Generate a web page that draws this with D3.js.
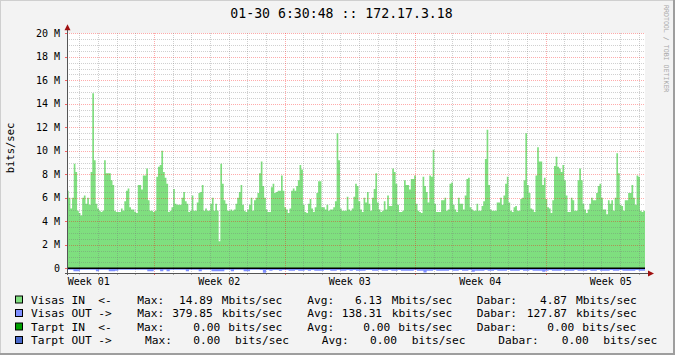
<!DOCTYPE html>
<html><head><meta charset="utf-8">
<script src="https://cdn.jsdelivr.net/npm/d3@7"></script>
<style>
html,body{margin:0;padding:0;background:#f3f3f3;}
svg{display:block;}
text{font-family:"DejaVu Sans Mono",monospace;fill:#000;white-space:pre;}
</style></head><body>
<svg id="chart" width="675" height="355"></svg>
<script>
// ---------- data ----------
const title = "01-30 6:30:48 :: 172.17.3.18";
const yAxisTitle = "bits/sec";
const watermark = "RRDTOOL / TOBI OETIKER";
const weekLabels = ["Week 01", "Week 02", "Week 03", "Week 04", "Week 05"];
const yTicks = [0, 2, 4, 6, 8, 10, 12, 14, 16, 18, 20];   // M bits/sec
const yTickLabels = ["0", "2 M", "4 M", "6 M", "8 M", "10 M", "12 M", "14 M", "16 M", "18 M", "20 M"];
const spanHours = 744;          // 31 days shown
const firstMidnightHour = 16;   // first day boundary after graph start
const firstWeekHour = 112;      // first week boundary after graph start

// Visas IN (Mbits/sec), evenly spaced samples across the period
const visasIn = [
6.6,6.0,5.1,6.0,8.9,8.2,4.9,4.7,4.5,6.0,6.2,5.5,6.0,5.4,8.2,14.9,9.2,5.5,5.1,4.9,4.8,4.9,9.2,8.1,8.1,8.1,7.5,7.1,4.9,4.8,
4.8,4.8,5.1,4.9,5.7,6.6,6.8,5.2,5.0,5.0,4.8,4.7,7.1,7.1,6.7,7.9,7.9,8.5,5.8,4.9,4.9,4.8,4.9,7.8,8.65,8.8,10.0,8.2,7.7,7.2,
4.8,4.9,5.2,6.75,5.5,5.4,5.4,5.4,6.0,6.5,5.7,5.5,4.8,4.9,6.2,4.9,4.9,5.6,6.4,6.5,7.1,4.9,5.1,4.9,4.9,5.5,6.0,4.9,5.5,4.9,
2.3,8.9,7.2,5.8,5.5,4.9,4.9,5.0,4.9,5.0,5.5,6.0,6.5,7.1,5.4,4.9,4.8,5.0,5.4,6.0,4.9,5.8,
6.0,6.4,8.1,9.1,7.0,6.0,5.0,4.8,4.8,6.9,7.2,6.4,6.5,6.6,6.6,7.9,6.6,5.2,5.0,4.7,5.1,6.6,6.8,6.6,7.0,7.5,8.8,8.4,5.4,4.8,
4.7,5.5,5.9,5.1,4.8,5.2,6.4,7.4,7.4,5.2,5.2,5.0,5.4,4.9,5.0,5.0,5.2,5.7,11.5,9.2,5.1,4.9,4.9,4.9,6.1,5.0,4.9,5.1,6.1,7.2,
7.0,5.7,5.0,4.8,6.0,5.6,6.5,5.5,4.9,6.0,6.75,8.1,5.6,5.0,4.8,4.9,5.7,5.0,6.2,5.3,5.3,8.5,8.2,7.2,5.4,4.8,4.8,4.9,7.5,7.1,
7.1,6.7,7.6,7.6,7.9,5.5,4.9,4.8,4.7,7.8,7.0,6.5,5.6,7.9,7.8,10.1,5.5,4.8,4.8,4.8,5.8,5.8,6.0,4.9,5.0,7.2,7.3,5.4,
5.0,4.8,6.0,5.5,5.5,5.0,6.2,7.6,7.7,5.2,5.0,4.9,4.9,5.5,4.9,4.9,5.3,5.7,9.3,11.8,7.1,5.0,4.9,4.9,4.9,5.6,5.6,6.0,5.4,6.2,
7.2,7.8,5.6,4.9,4.8,5.2,5.3,4.9,4.9,5.9,6.0,7.5,11.5,7.1,6.4,5.1,5.0,4.8,7.9,10.3,9.1,9.1,7.1,7.7,5.9,5.2,5.1,4.7,5.8,8.7,
9.5,8.65,8.5,8.2,8.8,7.5,6.2,4.8,4.8,6.0,5.8,4.9,4.9,7.5,8.5,7.5,5.5,5.0,4.7,5.0,5.5,6.0,5.8,5.8,6.4,7.0,7.2,6.0,5.0,5.0,
4.6,5.8,5.5,5.8,4.9,6.0,9.8,8.1,5.4,5.3,4.9,5.8,5.8,6.4,6.4,7.1,6.0,5.4,7.9,7.8,4.9,4.8,4.9
];
// Visas OUT (Mbits/sec), drawn below zero
const visasOut = [
0.12,0.12,0.26,0.26,0.12,0.12,0.12,0.12,0.12,0.26,0.12,0.12,0.12,0.26,0.26,0.2,0.12,0.12,0.12,0.12,
0.12,0.12,0.12,0.12,0.12,0.26,0.26,0.12,0.12,0.26,0.12,0.26,0.12,0.12,0.12,0.12,0.12,0.26,0.12,0.12,
0.12,0.26,0.12,0.12,0.12,0.26,0.26,0.26,0.26,0.12,0.12,0.26,0.12,0.12,0.12,0.26,0.26,0.12,0.12,0.12,
0.15,0.38,0.15,0.2,0.15,0.15,0.2,0.15,0.15,0.2,0.2,0.15,0.2,0.2,0.15,0.2,0.15,0.2,0.2,0.2,
0.15,0.15,0.2,0.2,0.15,0.2,0.2,0.15,0.2,0.15,0.2,0.2,0.2,0.15,0.15,0.2,0.2,0.15,0.2,0.2,
0.15,0.2,0.2,0.15,0.2,0.2,0.2,0.2,0.15,0.2,0.2,0.35,0.2,0.2,0.15,0.2,0.2,0.2,0.2,0.15,
0.2,0.2,0.15,0.2,0.2,0.15,0.3,0.2,0.2,0.2,0.15,0.2,0.2,0.15,0.2,0.2,0.2,0.15,0.2,0.2,
0.2,0.15,0.2,0.2,0.15,0.2,0.2,0.2,0.3,0.2,0.15,0.2,0.2,0.2,0.15,0.2,0.2,0.2,0.15,0.2,
0.2,0.2,0.15,0.2,0.2,0.15,0.2,0.2,0.2,0.15,0.2,0.2,0.15,0.2,0.2,0.2,0.2,0.15,0.2,0.2
];

// legend
const seriesNames  = ["Visas IN  <-", "Visas OUT ->", "Tarpt IN  <-", "Tarpt OUT ->"];
const seriesColors = ["#7fdf7f", "#7f8fff", "#00a000", "#4a6acc"];
const maxVals   = ["14.89", "379.85", "0.00", "0.00"];
const avgVals   = ["6.13", "138.31", "0.00", "0.00"];
const lastVals  = ["4.87", "127.87", "0.00", "0.00"];
const maxUnits  = ["Mbits/sec", "kbits/sec", "bits/sec", "bits/sec"];
const avgUnits  = ["Mbits/sec", "kbits/sec", "bits/sec", "bits/sec"];
const lastUnits = ["Mbits/sec", "kbits/sec", "bits/sec", "bits/sec"];
const maxLabel = "Max:", avgLabel = "Avg:", lastLabel = "Dabar:";

// ---------- layout ----------
const W = 675, H = 355;
const plot = {left: 67, right: 645, top: 33.3, bottom: 273};
const svg = d3.select("#chart");

// frame
svg.append("rect").attr("x", 0).attr("y", 0).attr("width", W).attr("height", H).attr("fill", "#f3f3f3");
svg.append("path").attr("d", `M0,${H} L0,0 L${W},0`).attr("fill", "none").attr("stroke", "#cfcfcf").attr("stroke-width", 2);
svg.append("path").attr("d", `M0,${H-1} L${W-1},${H-1} L${W-1},0`).attr("fill", "none").attr("stroke", "#9e9e9e").attr("stroke-width", 2);

// canvas
svg.append("rect").attr("x", plot.left).attr("y", plot.top)
  .attr("width", plot.right - plot.left).attr("height", plot.bottom - plot.top).attr("fill", "#ffffff");

const x = d3.scaleLinear().domain([0, spanHours]).range([plot.left, plot.right]);
const y = d3.scaleLinear().domain([-0.4, 20]).range([plot.bottom, plot.top]);

// data areas (step, like rrdtool)
function stepArea(arr, sign) {
  const n = arr.length, dt = spanHours / n;
  const pts = arr.map((v, i) => ({t: i * dt, v: sign * v}));
  pts.push({t: spanHours, v: sign * arr[n - 1]});
  return d3.area().curve(d3.curveStepAfter)
    .x(d => x(d.t)).y0(y(0)).y1(d => y(d.v))(pts);
}
svg.append("path").attr("d", stepArea(visasIn, 1)).attr("fill", seriesColors[0]);
svg.append("path").attr("d", stepArea(visasOut, -1)).attr("fill", seriesColors[1]);

// grid (drawn over data, translucent like rrdtool)
const gMinor = "rgba(120,120,120,0.35)", gMajor = "rgba(255,0,0,0.33)";
const grid = svg.append("g").attr("shape-rendering", "crispEdges");
for (let v = 0.5; v <= 20; v += 0.5) {
  const major = Math.abs(v / 2 - Math.round(v / 2)) < 1e-9;
  grid.append("line").attr("x1", plot.left).attr("x2", plot.right)
    .attr("y1", Math.round(y(v)) + 0.5).attr("y2", Math.round(y(v)) + 0.5)
    .attr("stroke", major ? gMajor : gMinor).attr("stroke-dasharray", "1,1");
}
for (let h = firstMidnightHour; h < spanHours; h += 24) {
  const major = (h - firstWeekHour) % 168 === 0;
  grid.append("line").attr("y1", plot.top).attr("y2", plot.bottom)
    .attr("x1", Math.round(x(h)) + 0.5).attr("x2", Math.round(x(h)) + 0.5)
    .attr("stroke", major ? gMajor : gMinor).attr("stroke-dasharray", "1,1");
  grid.append("line").attr("y1", plot.bottom).attr("y2", plot.bottom + 2)
    .attr("x1", Math.round(x(h)) + 0.5).attr("x2", Math.round(x(h)) + 0.5)
    .attr("stroke", major ? "rgba(255,0,0,0.6)" : "rgba(120,120,120,0.6)");
}
yTicks.forEach(v => {
  grid.append("line").attr("x1", plot.left - 2).attr("x2", plot.left)
    .attr("y1", Math.round(y(v)) + 0.5).attr("y2", Math.round(y(v)) + 0.5)
    .attr("stroke", "rgba(255,0,0,0.6)");
});

// zero line
svg.append("line").attr("x1", plot.left).attr("x2", plot.right)
  .attr("y1", y(0)).attr("y2", y(0)).attr("stroke", "#000").attr("stroke-width", 1.5);

// axes
const axisColor = "#555";
svg.append("line").attr("x1", plot.left + 0.5).attr("x2", plot.left + 0.5)
  .attr("y1", plot.bottom + 2).attr("y2", plot.top - 4).attr("stroke", axisColor);
svg.append("line").attr("x1", plot.left - 2).attr("x2", plot.right + 4)
  .attr("y1", plot.bottom + 0.5).attr("y2", plot.bottom + 0.5).attr("stroke", axisColor);
const arrowColor = "#a01010";
svg.append("path").attr("d", `M${plot.left - 2.5},${plot.top - 3} L${plot.left + 3.5},${plot.top - 3} L${plot.left + 0.5},${plot.top - 9} Z`).attr("fill", arrowColor);
svg.append("path").attr("d", `M${plot.right + 3},${plot.bottom - 2.5} L${plot.right + 3},${plot.bottom + 3.5} L${plot.right + 9},${plot.bottom + 0.5} Z`).attr("fill", arrowColor);

// y labels
svg.append("g").selectAll("text").data(yTicks).join("text")
  .attr("x", 60).attr("y", d => y(d) + 3.5).attr("text-anchor", "end")
  .attr("font-size", "10px").text((d, i) => yTickLabels[i]);

// week labels (centered in week)
svg.append("g").selectAll("text").data(weekLabels).join("text")
  .attr("x", (d, i) => x(firstWeekHour + (i - 1) * 168 + 84))
  .attr("y", 285).attr("text-anchor", "middle").attr("font-size", "10px").text(d => d);

// titles
svg.append("text").attr("x", 341.5).attr("y", 18.3).attr("text-anchor", "middle")
  .attr("font-size", "13.2px").text(title);
svg.append("text").attr("transform", `translate(14,148) rotate(-90)`)
  .attr("text-anchor", "middle").attr("font-size", "10.5px").text(yAxisTitle);
svg.append("text").attr("transform", `translate(664,5) rotate(90)`)
  .attr("text-anchor", "start").attr("font-size", "6.6px").style("fill", "#a8a8a8").text(watermark);

// legend
const rowY = [303.5, 317, 330.5, 344];
const cols = {
  maxL: [137.3, 137.3, 137.3, 145], maxV: [179, 172.3, 193.3, 193.3], maxU: [221.7, 221.7, 228.3, 235],
  avgL: [307.3, 307.3, 307.3, 321.7], avgV: [355, 341.7, 363.3, 370], avgU: [391.7, 391.7, 398.3, 411.7],
  lastL: [476.7, 476.7, 476.7, 498.3], lastV: [540, 526.7, 547.3, 561.7], lastU: [576, 576, 582.3, 603.3]
};
const leg = svg.append("g").attr("font-size", "11.2px");
seriesNames.forEach((name, i) => {
  const by = rowY[i];
  leg.append("rect").attr("x", 15.5).attr("y", by - 7.5).attr("width", 7).attr("height", 7)
    .attr("fill", seriesColors[i]).attr("stroke", "#000").attr("stroke-width", 1);
  const put = (xx, s) => leg.append("text").attr("x", xx).attr("y", by).attr("xml:space", "preserve").text(s);
  put(31, name);
  put(cols.maxL[i], maxLabel); put(cols.maxV[i], maxVals[i]); put(cols.maxU[i], maxUnits[i]);
  put(cols.avgL[i], avgLabel); put(cols.avgV[i], avgVals[i]); put(cols.avgU[i], avgUnits[i]);
  put(cols.lastL[i], lastLabel); put(cols.lastV[i], lastVals[i]); put(cols.lastU[i], lastUnits[i]);
});
</script>
</body></html>
